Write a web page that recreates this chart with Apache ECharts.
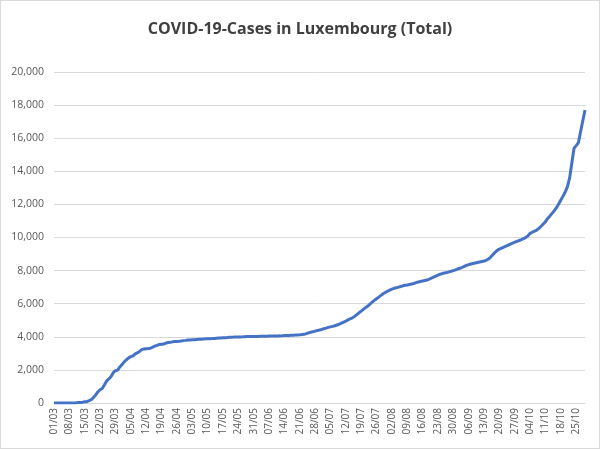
<!DOCTYPE html>
<html lang="en">
<head>
    <meta charset="UTF-8">
    <title>COVID-19-Cases in Luxembourg (Total)</title>
    <style>
        html, body { margin: 0; padding: 0; background: #fff; }
        #main { width: 598px; height: 447px; border: 1px solid #d9d9d9; }
    </style>
</head>
<body>
<div id="main"></div>
</body>
<script src="https://cdn.jsdelivr.net/npm/echarts@6/dist/echarts.min.js"></script>
<script>
    // cumulative cases per day, one array per month (2020)
    var march = [1, 1, 1, 2, 2, 3, 3, 3, 5, 7, 7, 26, 34, 51, 77, 81, 140, 203, 335, 484,
        670, 798, 875, 1099, 1333, 1453, 1605, 1831, 1950, 1988, 2178];
    var april = [2319, 2487, 2612, 2729, 2804, 2843, 2970, 3034, 3115, 3223, 3270, 3281, 3292, 3307, 3373,
        3444, 3480, 3537, 3550, 3558, 3618, 3654, 3665, 3695, 3711, 3723, 3729, 3741, 3769, 3784];
    var may = [3802, 3812, 3824, 3828, 3840, 3851, 3859, 3871, 3877, 3886, 3888, 3894, 3904, 3915, 3923,
        3930, 3945, 3947, 3958, 3971, 3980, 3981, 3990, 3993, 3995, 4001, 4008, 4012, 4016, 4018, 4019];
    var june = [4020, 4024, 4032, 4035, 4039, 4040, 4043, 4046, 4048, 4052, 4054, 4056, 4063, 4072, 4078,
        4085, 4093, 4099, 4104, 4113, 4120, 4133, 4150, 4190, 4240, 4280, 4310, 4345, 4380, 4410];
    var july = [4444, 4491, 4522, 4567, 4600, 4630, 4670, 4710, 4770, 4830, 4890, 4950, 5020, 5090, 5150,
        5230, 5340, 5450, 5550, 5660, 5760, 5860, 5980, 6090, 6200, 6300, 6400, 6500, 6600, 6680, 6750];
    var august = [6820, 6880, 6930, 6960, 7000, 7040, 7080, 7110, 7130, 7160, 7190, 7220, 7270, 7310, 7340,
        7370, 7400, 7430, 7480, 7540, 7600, 7660, 7720, 7780, 7820, 7850, 7880, 7920, 7960, 8000, 8040];
    var september = [8100, 8140, 8190, 8250, 8310, 8360, 8400, 8430, 8460, 8490, 8520, 8550, 8580, 8620, 8700,
        8820, 8960, 9100, 9220, 9300, 9360, 9420, 9480, 9540, 9600, 9660, 9720, 9770, 9820, 9870];
    var october = [9930, 10000, 10100, 10250, 10320, 10380, 10450, 10550, 10680, 10820, 10960, 11150, 11300, 11460, 11620,
        11800, 12020, 12270, 12500, 12750, 13070, 13600, 14500, 15390, 15550, 15730, 16400, 17050, 17700];

    var months = ['03', '04', '05', '06', '07', '08', '09', '10'];
    var monthValues = [march, april, may, june, july, august, september, october];

    var yTicks = [0, 2000, 4000, 6000, 8000, 10000, 12000, 14000, 16000, 18000, 20000];

    var days = [];
    var cases = [];
    monthValues.forEach(function (vals, m) {
        vals.forEach(function (v, i) {
            var d = i + 1;
            days.push((d < 10 ? '0' + d : '' + d) + '/' + months[m]);
            cases.push(v);
        });
    });

    var font = '"Open Sans", "Liberation Sans", sans-serif';
    var myChart = echarts.init(document.getElementById('main'));
    var option = {
        animation: false,
        title: {
            text: 'COVID-19-Cases in Luxembourg (Total)',
            left: 'center',
            top: 15,
            textStyle: { fontFamily: font, fontSize: 16, fontWeight: 'bold', color: '#404040' }
        },
        grid: { left: 53, right: 14, top: 71, bottom: 45 },
        xAxis: {
            type: 'category',
            data: days,
            boundaryGap: false,
            axisLine: { lineStyle: { color: '#d9d9d9' } },
            axisTick: { show: false },
            axisLabel: {
                interval: 6,
                rotate: 90,
                margin: 5,
                color: '#595959',
                fontFamily: font,
                fontSize: 10
            }
        },
        yAxis: {
            type: 'value',
            min: yTicks[0],
            max: yTicks[yTicks.length - 1],
            interval: 2000,
            axisLine: { show: false },
            axisTick: { show: false },
            splitLine: { lineStyle: { color: '#d9d9d9' } },
            axisLabel: {
                margin: 10,
                color: '#595959',
                fontFamily: font,
                fontSize: 10.5,
                formatter: function (v) { return v.toLocaleString('en-US'); }
            }
        },
        series: [{
            type: 'line',
            data: cases,
            showSymbol: false,
            lineStyle: { color: '#4472C4', width: 3 },
            itemStyle: { color: '#4472C4' }
        }]
    };

    myChart.setOption(option);
</script>
</html>
